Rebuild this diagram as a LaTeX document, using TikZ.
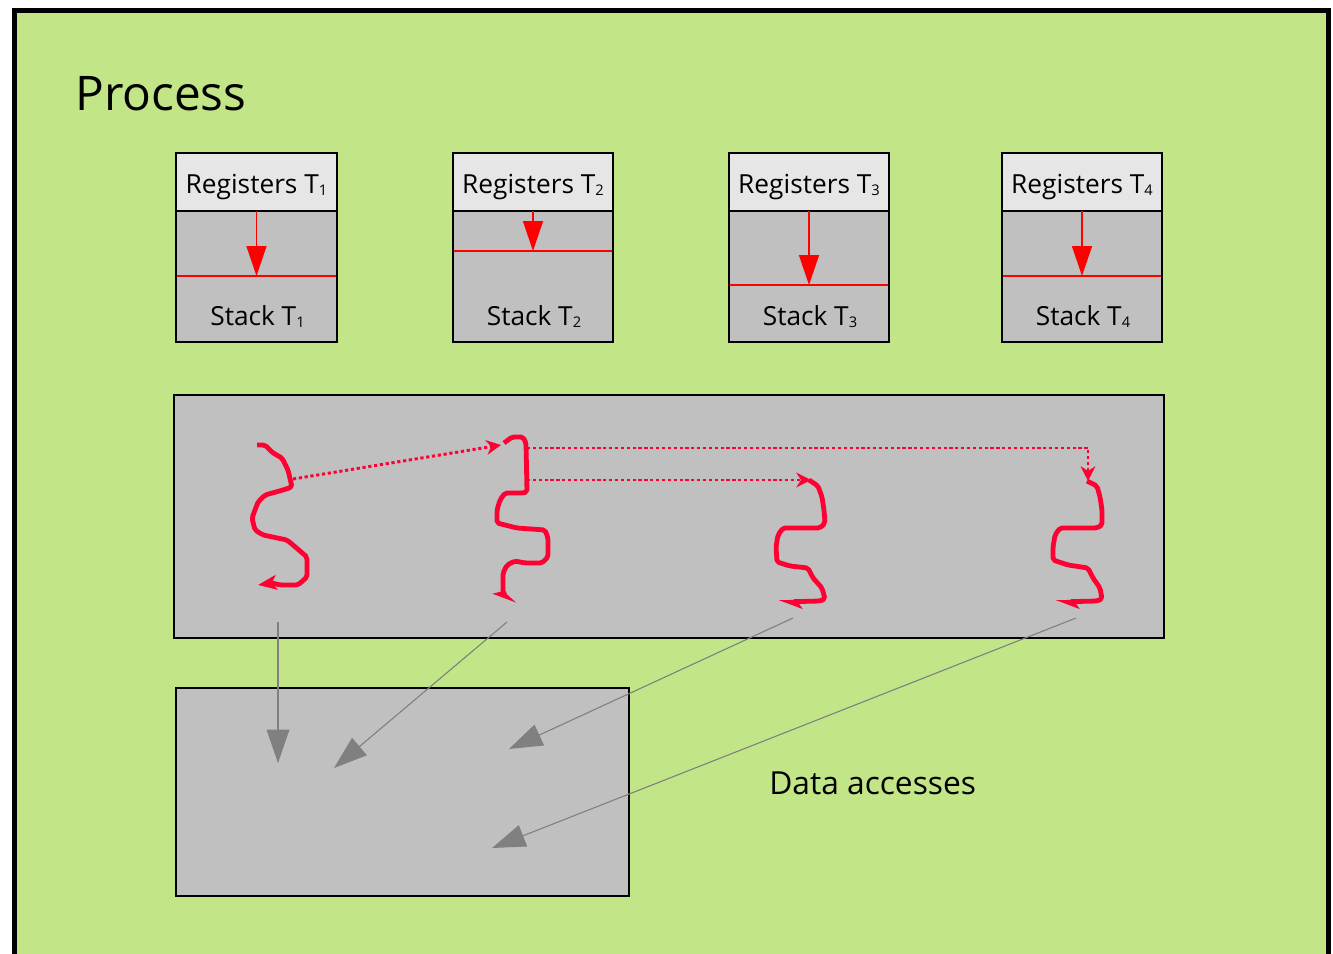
\documentclass[tikz,border=0pt]{standalone}
\usepackage{fontspec}
\setmainfont{Open Sans}
\usetikzlibrary{arrows.meta}
\definecolor{procgreen}{HTML}{C1E587}
\definecolor{boxgray}{HTML}{C0C0C0}
\definecolor{reggray}{HTML}{E6E6E6}
\definecolor{threadred}{HTML}{FF0033}
\definecolor{accgray}{HTML}{808080}
\newcommand\tsubscr[1]{\raisebox{-1.6pt}{\fontsize{11}{11}\selectfont #1}}
\tikzset{
  regbox/.style={draw=black, line width=1.9pt, fill=reggray},
  stackbox/.style={draw=black, line width=1.9pt, fill=boxgray},
  lbl/.style={font=\fontsize{19.7}{23}\selectfont, inner sep=0pt, anchor=base},
  sptr/.style={draw=red, line width=1.1pt},
  sptrarrow/.style={red, line width=1.1pt, -{Triangle[length=22.5pt, width=15pt]}},
  thread/.style={draw=threadred, line width=3.6pt, line join=round, line cap=butt, rounded corners=1.5pt},
  spawn/.style={draw=threadred, line width=2.2pt, dash pattern=on 2.4pt off 2pt, -{Stealth[length=11pt, width=11pt, inset=3.5pt]}},
  access/.style={draw=accgray, fill=accgray, line width=0.8pt, -{Triangle[length=25pt, width=17pt]}},
}
\begin{document}
\begin{tikzpicture}[x=0.75pt, y=-0.75pt]
\useasboundingbox (0,0) rectangle (1333,953);
\fill[white] (0,0) rectangle (1333,953);
% process frame
\begin{scope}
\clip (0,0) rectangle (1333,953);
\draw[fill=procgreen, line width=3.8pt] (14.5,10.5) rectangle (1328.5,990);
\end{scope}
\node[anchor=base west, inner sep=0pt, font=\fontsize{35.8}{42}\selectfont] (title) at (75,110) {Process};

% per-thread register and stack boxes
\foreach \i/\xl/\xr/\sp in {1/176/337/276, 2/453/613/251, 3/729/889/285, 4/1002/1162/276}{
  \path[stackbox] (\xl,211) rectangle (\xr,342);
  \path[regbox] (\xl,153) rectangle (\xr,211);
  \coordinate (reg\i) at ({(\xl+\xr)/2},211);
  \draw[sptr] (\xl+1,\sp) -- (\xr-1,\sp);
  \coordinate (sp\i) at ({(\xl+\xr)/2},\sp);
  \draw[sptrarrow] (reg\i) -- (sp\i);
  \node[lbl] (rl\i) at ({(\xl+\xr)/2},193) {Registers T\tsubscr{\i}};
  \node[lbl] (sl\i) at ({(\xl+\xr)/2+1},325) {Stack T\tsubscr{\i}};
}

% code area and data area
\path[stackbox] (174,395) rectangle (1164,638);
\path[stackbox] (176,688) rectangle (629,896);
\node[anchor=west, inner sep=0pt, font=\fontsize{23.8}{28}\selectfont] (acc) at (769,783) {Data accesses};

% threads of execution
\coordinate (t1s) at (293,479);
\coordinate (t2a) at (501,445);
\coordinate (t2s) at (527,448);
\coordinate (t2t) at (527,480);
\coordinate (t3a) at (811,480);
\coordinate (t4c) at (1088,448);
\coordinate (t4a) at (1088,481);

\draw[thread, -{Stealth[length=14pt, width=11pt, inset=3.5pt]}]
  (257,445) -- (265,445) -- (273,453) -- (282,458) -- (288,470) -- (292,487)
  -- (283,490) -- (265,495) -- (258,502) -- (252,518) -- (255,530) -- (263,535)
  -- (287,540) -- (293,545) -- (307,557) -- (307,577) -- (298,585) -- (280,585)
  -- (272,583) -- (258,585);
\draw[thread, -{Stealth[harpoon, swap, length=14pt, width=11pt, inset=3.5pt]}]
  (504,443) -- (512,437) -- (523,437) -- (526,443) -- (527,492) -- (523,493)
  -- (505,493) -- (500,500) -- (497,510) -- (497,523) -- (517,528) -- (545,530)
  -- (548,538) -- (548,557) -- (542,563) -- (525,563) -- (515,561) -- (507,565)
  -- (503,573) -- (503,593) -- (515,604);
\draw[thread, -{Stealth[harpoon, length=14pt, width=11pt, inset=3.5pt]}]
  (809,480) -- (818,486) -- (822,497) -- (824,510) -- (825,523) -- (820,528)
  -- (783,528) -- (778,535) -- (776,547) -- (777,562) -- (790,566) -- (808,568)
  -- (813,578) -- (822,588) -- (825,599) -- (820,601) -- (779,602);
\draw[thread, -{Stealth[harpoon, length=14pt, width=11pt, inset=3.5pt]}]
  (1087,481) -- (1097,486) -- (1100,497) -- (1102,510) -- (1102,525) -- (1097,528)
  -- (1060,528) -- (1055,535) -- (1053,547) -- (1053,560) -- (1068,565) -- (1088,568)
  -- (1093,578) -- (1100,588) -- (1102,599) -- (1097,601) -- (1056,602);

% thread creation
\draw[spawn] (t1s) -- (t2a);
\draw[spawn] (t2s) -- (t4c) -- (t4a);
\draw[spawn] (t2t) -- (t3a);

% data accesses
\coordinate (d1) at (278,622);
\coordinate (d2) at (507,622);
\coordinate (d3) at (793,618);
\coordinate (d4) at (1076,618);
\coordinate (e1) at (278,763);
\coordinate (e2) at (334,768);
\coordinate (e3) at (509,749);
\coordinate (e4) at (492,848);
\draw[access] (d1) -- (e1);
\draw[access] (d2) -- (e2);
\draw[access] (d3) -- (e3);
\draw[access] (d4) -- (e4);
\end{tikzpicture}
\end{document}
